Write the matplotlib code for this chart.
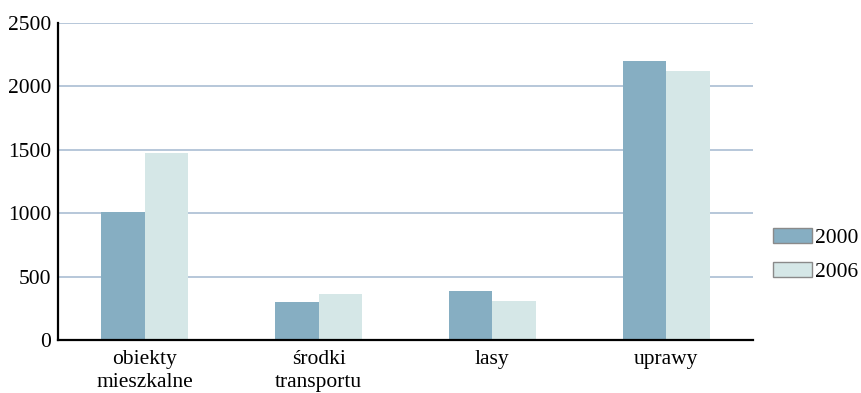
import matplotlib
matplotlib.use("Agg")
import matplotlib.pyplot as plt
import numpy as np
from matplotlib.patches import Patch

categories = ["obiekty\nmieszkalne", "środki\ntransportu", "lasy", "uprawy"]
years = ["2000", "2006"]
values_2000 = [1010, 300, 390, 2200]
values_2006 = [1475, 360, 310, 2120]

plt.rcParams['font.family'] = ['Liberation Serif', 'DejaVu Serif']
plt.rcParams['font.size'] = 15.5

fig = plt.figure(figsize=(8.62, 3.93), dpi=100)
ax = fig.add_axes([0.0673, 0.1349, 0.8062, 0.8066])

x = np.arange(len(categories))
w = 0.25
ax.bar(x - w / 2, values_2000, w, color="#86aec2", label=years[0], zorder=3)
ax.bar(x + w / 2, values_2006, w, color="#d5e7e7", label=years[1], zorder=3)

ax.set_xlim(-0.5, 3.5)
ax.set_ylim(0, 2500)
ax.set_yticks([0, 500, 1000, 1500, 2000, 2500])
ax.set_xticks(x)
ax.set_xticklabels(categories, linespacing=1.3)
ax.tick_params(axis='both', length=0, labelsize=15.5)
ax.tick_params(axis='y', pad=5)
ax.tick_params(axis='x', pad=7)
ax.yaxis.grid(True, color="#aabdd3", linewidth=1.2, zorder=0)
for s in ["top", "right"]:
    ax.spines[s].set_visible(False)
for s in ["left", "bottom"]:
    ax.spines[s].set_linewidth(1.6)
    ax.spines[s].set_color("black")
    ax.spines[s].set_zorder(4)

# legend with gray outlined patches
handles = [Patch(facecolor="#86aec2", edgecolor="#8a8a8a", label=years[0]),
           Patch(facecolor="#d5e7e7", edgecolor="#8a8a8a", label=years[1])]
fig.legend(handles=handles, loc="center left", bbox_to_anchor=(0.884, 0.351),
           frameon=False, handlelength=1.81, handleheight=0.7, labelspacing=0.66,
           handletextpad=0.15, fontsize=15.5, borderpad=0)

fig.savefig("out.png", dpi=100)
